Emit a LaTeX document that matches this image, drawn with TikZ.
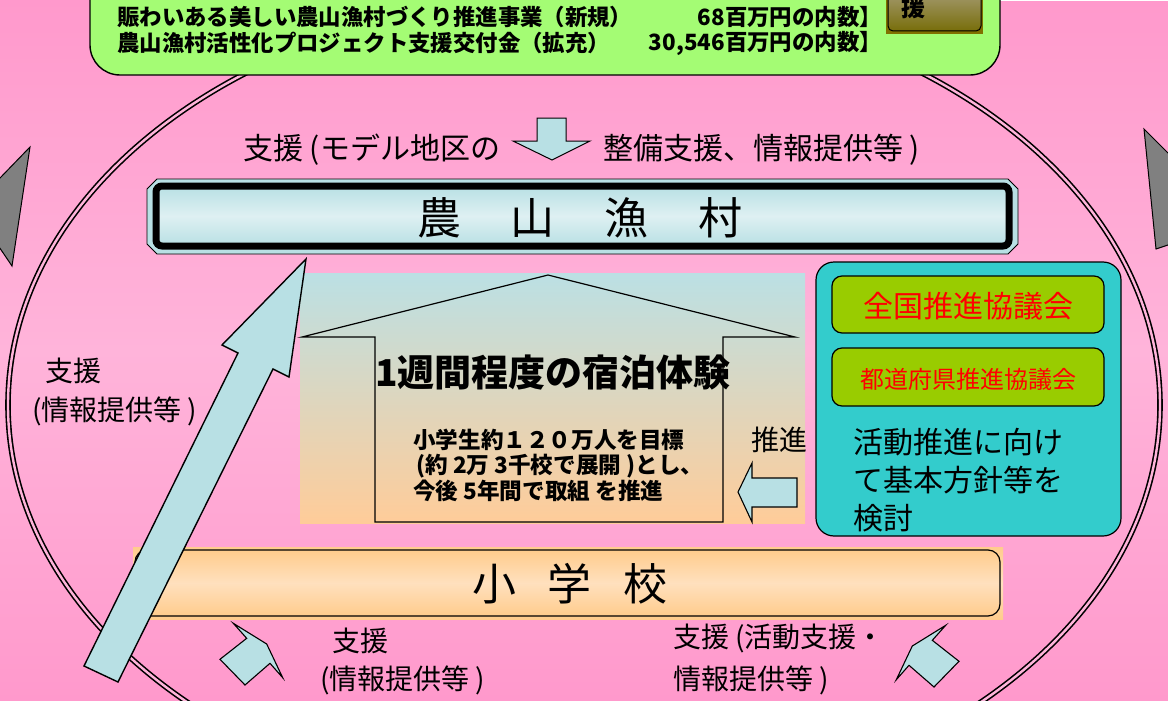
\documentclass[tikz,border=0pt]{standalone}
\usepackage{fontspec}
\setmainfont{Noto Sans CJK JP}
\definecolor{pinkT}{RGB}{255,153,204}
\definecolor{pinkM}{RGB}{255,180,218}
\definecolor{lblue}{RGB}{184,224,228}
\definecolor{lblueL}{RGB}{222,240,242}
\definecolor{tealc}{RGB}{51,204,204}
\definecolor{oliveg}{RGB}{153,204,0}
\definecolor{peachc}{RGB}{255,204,140}
\definecolor{peachL}{RGB}{255,224,190}
\definecolor{houseTop}{RGB}{187,224,228}
\definecolor{houseBot}{RGB}{255,204,153}
\definecolor{lgreen}{RGB}{164,252,116}
\definecolor{grayT}{RGB}{128,128,128}
\definecolor{oliveA}{RGB}{165,155,115}
\definecolor{oliveB}{RGB}{120,110,10}
\definecolor{oliveD}{RGB}{128,112,0}
\begin{document}
\begin{tikzpicture}[x=1pt,y=-1pt,
  lbl/.style={inner sep=0pt,font=\fontsize{28}{34}\selectfont},
  lbltop/.style={inner sep=0pt,font=\fontsize{30}{36}\selectfont},
  gtext/.style={inner sep=0pt,font=\bfseries\fontsize{22.4}{24}\selectfont},
  subtext/.style={inner sep=0pt,font=\bfseries\fontsize{22.6}{26}\selectfont},
  blockarrow/.style={fill=lblue,draw=black,line width=1.3pt,line join=miter},
  council/.style={fill=oliveg,draw=black,line width=1.2pt,rounded corners=10pt}]
\useasboundingbox (0,0) rectangle (1168,701);
\clip (0,0) rectangle (1168,701);
% background
\shade[top color=pinkT,bottom color=pinkT,middle color=pinkM] (0,0) rectangle (1168,701);
\fill[white] (1000,0) rectangle (1168,1.2);
% grey triangles
\draw[fill=grayT,line width=1pt] (30,147) -- (12,266) -- (-28,207) -- cycle;
\draw[fill=grayT,line width=1pt] (1144,129) -- (1237,222) -- (1156,249) -- cycle;
% big ellipse
\draw[line width=1.6pt,double=pinkM,double distance=2.4pt] (584,405) ellipse [x radius=576,y radius=410];
% top green box
\draw[fill=lgreen,line width=1.4pt,rounded corners=30pt] (90,-40) rectangle (1000,75);
\fill[oliveD] (886,-5) rectangle (983,34);
\draw[top color=oliveA,bottom color=oliveB,line width=1pt,rounded corners=5pt] (888,-10) rectangle (981,31);
\node[inner sep=0pt,font=\bfseries\fontsize{24}{24}\selectfont] (en) at (913,7) {援};
\node[gtext,anchor=west] (g2) at (117,17) {賑わいある美しい農山漁村づくり推進事業（新規）};
\node[gtext,anchor=east] (g2r) at (882,17) {68百万円の内数】};
\node[gtext,anchor=west] (g3) at (117,43) {農山漁村活性化プロジェクト支援交付金（拡充）};
\node[gtext,anchor=east] (g3r) at (882,43) {30,546百万円の内数】};
% top label with down arrow
\node[lbltop,anchor=west] (t1) at (243,150) {支援 (モデル地区の};
\draw[blockarrow,line width=1pt] (537,118) -- (566,118) -- (566,141) -- (590,141) -- (552,160) -- (513,141) -- (537,141) -- cycle;
\node[lbltop,anchor=west] (t2) at (603,150) {整備支援、情報提供等 )};
% 農山漁村 bar
\draw[fill=lblue,line width=0.8pt] (157,179) -- (1008,179) -- (1018,189) -- (1018,244) -- (1008,254) -- (157,254) -- (147,244) -- (147,189) -- cycle;
\draw[line width=7pt,rounded corners=6pt,top color=lblue,bottom color=lblue,middle color=lblueL] (156,186) rectangle (1009,246);
\node[inner sep=0pt,font=\fontsize{44}{44}\selectfont] (nsgs) at (580,218) {農\hspace{50pt}山\hspace{50pt}漁\hspace{50pt}村};
% house
\shade[top color=houseTop,bottom color=houseBot] (300,273) rectangle (805,523);
\draw[line width=1.2pt] (375,522) -- (375,337) -- (302,337) -- (548,275) -- (795,337) -- (723,337) -- (723,522) -- cycle;
\node[inner sep=0pt,font=\bfseries\fontsize{37}{37}\selectfont] (h1) at (553,373) {1週間程度の宿泊体験};
\node[subtext,anchor=west] (h2) at (413,440) {小学生約１２０万人を目標};
\node[subtext,anchor=west] (h3) at (416,466) {(約 2万 3千校で展開 )とし、};
\node[subtext,anchor=west] (h4) at (413,491) {今後 5年間で取組 を推進};
\node[lbl,anchor=west] (suishin) at (751,440) {推進};
\draw[blockarrow,line width=1.1pt] (738,492) -- (752,463) -- (752,478) -- (797,478) -- (797,507) -- (752,507) -- (752,522) -- cycle;
% teal box
\draw[fill=tealc,line width=1.2pt,rounded corners=18pt] (816,262) rectangle (1121,536);
\draw[council] (832,276) rectangle (1104,333);
\node[inner sep=0pt,text=red,font=\fontsize{30}{30}\selectfont] (zenkoku) at (968,306) {全国推進協議会};
\draw[council] (832,348) rectangle (1104,406);
\node[inner sep=0pt,text=red,font=\fontsize{24}{24}\selectfont] (todofuken) at (968,379) {都道府県推進協議会};
\node[inner sep=0pt,anchor=west,align=left,font=\fontsize{30}{38}\selectfont] (kentou) at (853,480) {活動推進に向け\\て基本方針等を\\検討};
% 小学校 bar
\shade[top color=peachc,bottom color=peachc,middle color=peachL] (133,547) rectangle (1003,619);
\draw[line width=1.2pt,rounded corners=12pt,top color=peachc,bottom color=peachc,middle color=peachL] (135,550) rectangle (1000,616);
\node[inner sep=0pt,font=\fontsize{44}{44}\selectfont] (school) at (570,584) {小\hspace{32pt}学\hspace{32pt}校};
% big diagonal arrow
\draw[blockarrow,line width=1.4pt] (84,666) -- (238,353) -- (222,345) -- (306,259) -- (289,377) -- (273,369) -- (118,682) -- cycle;
% small arrows
\draw[blockarrow,line width=1.1pt] (233.3,623.3) -- (266.7,644) -- (282.7,677.7) -- (270,663.3) -- (245,685) -- (220,659.3) -- (246.7,638.3) -- cycle;
\draw[blockarrow,line width=1.1pt] (945.7,625.3) -- (912.3,646) -- (896.3,679.7) -- (909,665.3) -- (934,687) -- (959,661.3) -- (932.3,640.3) -- cycle;
% labels
\node[lbl,anchor=west] (l1) at (45,371) {支援};
\node[lbl,anchor=west] (l2) at (32,411) {(情報提供等 )};
\node[lbl,anchor=west] (b1) at (332,641) {支援};
\node[lbl,anchor=west] (b2) at (320,680) {(情報提供等 )};
\node[lbl,anchor=west] (b3) at (673,638) {支援 (活動支援・};
\node[lbl,anchor=west] (b4) at (673,680) {情報提供等 )};
\end{tikzpicture}
\end{document}
